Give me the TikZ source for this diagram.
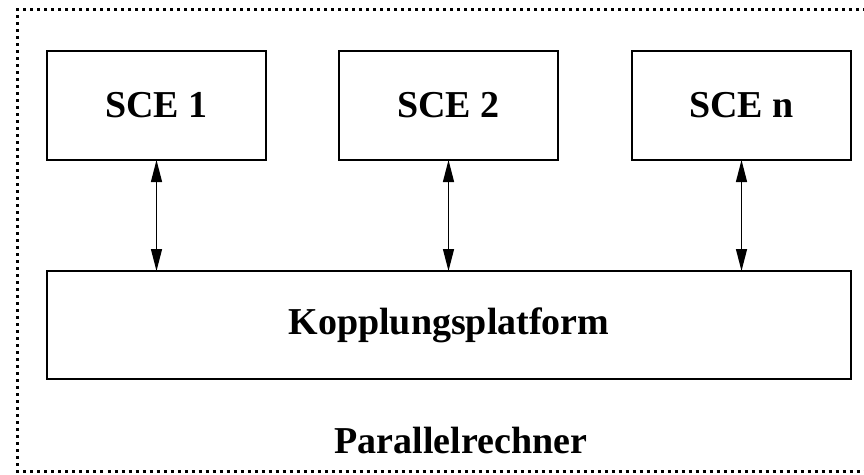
\documentclass[tikz,border=0pt]{standalone}
\usepackage{fontspec}
\setmainfont{Liberation Serif}
\usetikzlibrary{arrows.meta}
\begin{document}
\begin{tikzpicture}[x=1pt, y=-1pt,
  box/.style={shape=rectangle, draw=black, line width=2pt, minimum width=219pt, minimum height=109pt, inner sep=0pt, font=\fontsize{38}{40}\selectfont\bfseries},
  link/.style={{Triangle[length=22pt,width=11pt]}-{Triangle[length=22pt,width=11pt]}, line width=1.3pt, shorten <=-1pt, shorten >=-1pt}]
\useasboundingbox (0,0) rectangle (864,474);
\draw[line width=3pt, dash pattern=on 3pt off 4pt] (866,9.5) -- (17.5,9.5) -- (17.5,471) -- (866,471);
\node[box] (sce1) at (156.5,105.5) {SCE 1};
\node[box] (sce2) at (448.5,105.5) {SCE 2};
\node[box] (scen) at (741.5,105.5) {SCE n};
\node[box, minimum width=804pt, minimum height=108pt] (kopp) at (449,325) {Kopplungsplatform};
\node[font=\fontsize{38}{40}\selectfont\bfseries] (par) at (461,440) {Parallelrechner};
\draw[link] (sce1.south) -- (sce1.south |- kopp.north);
\draw[link] (sce2.south) -- (sce2.south |- kopp.north);
\draw[link] (scen.south) -- (scen.south |- kopp.north);
\end{tikzpicture}
\end{document}
